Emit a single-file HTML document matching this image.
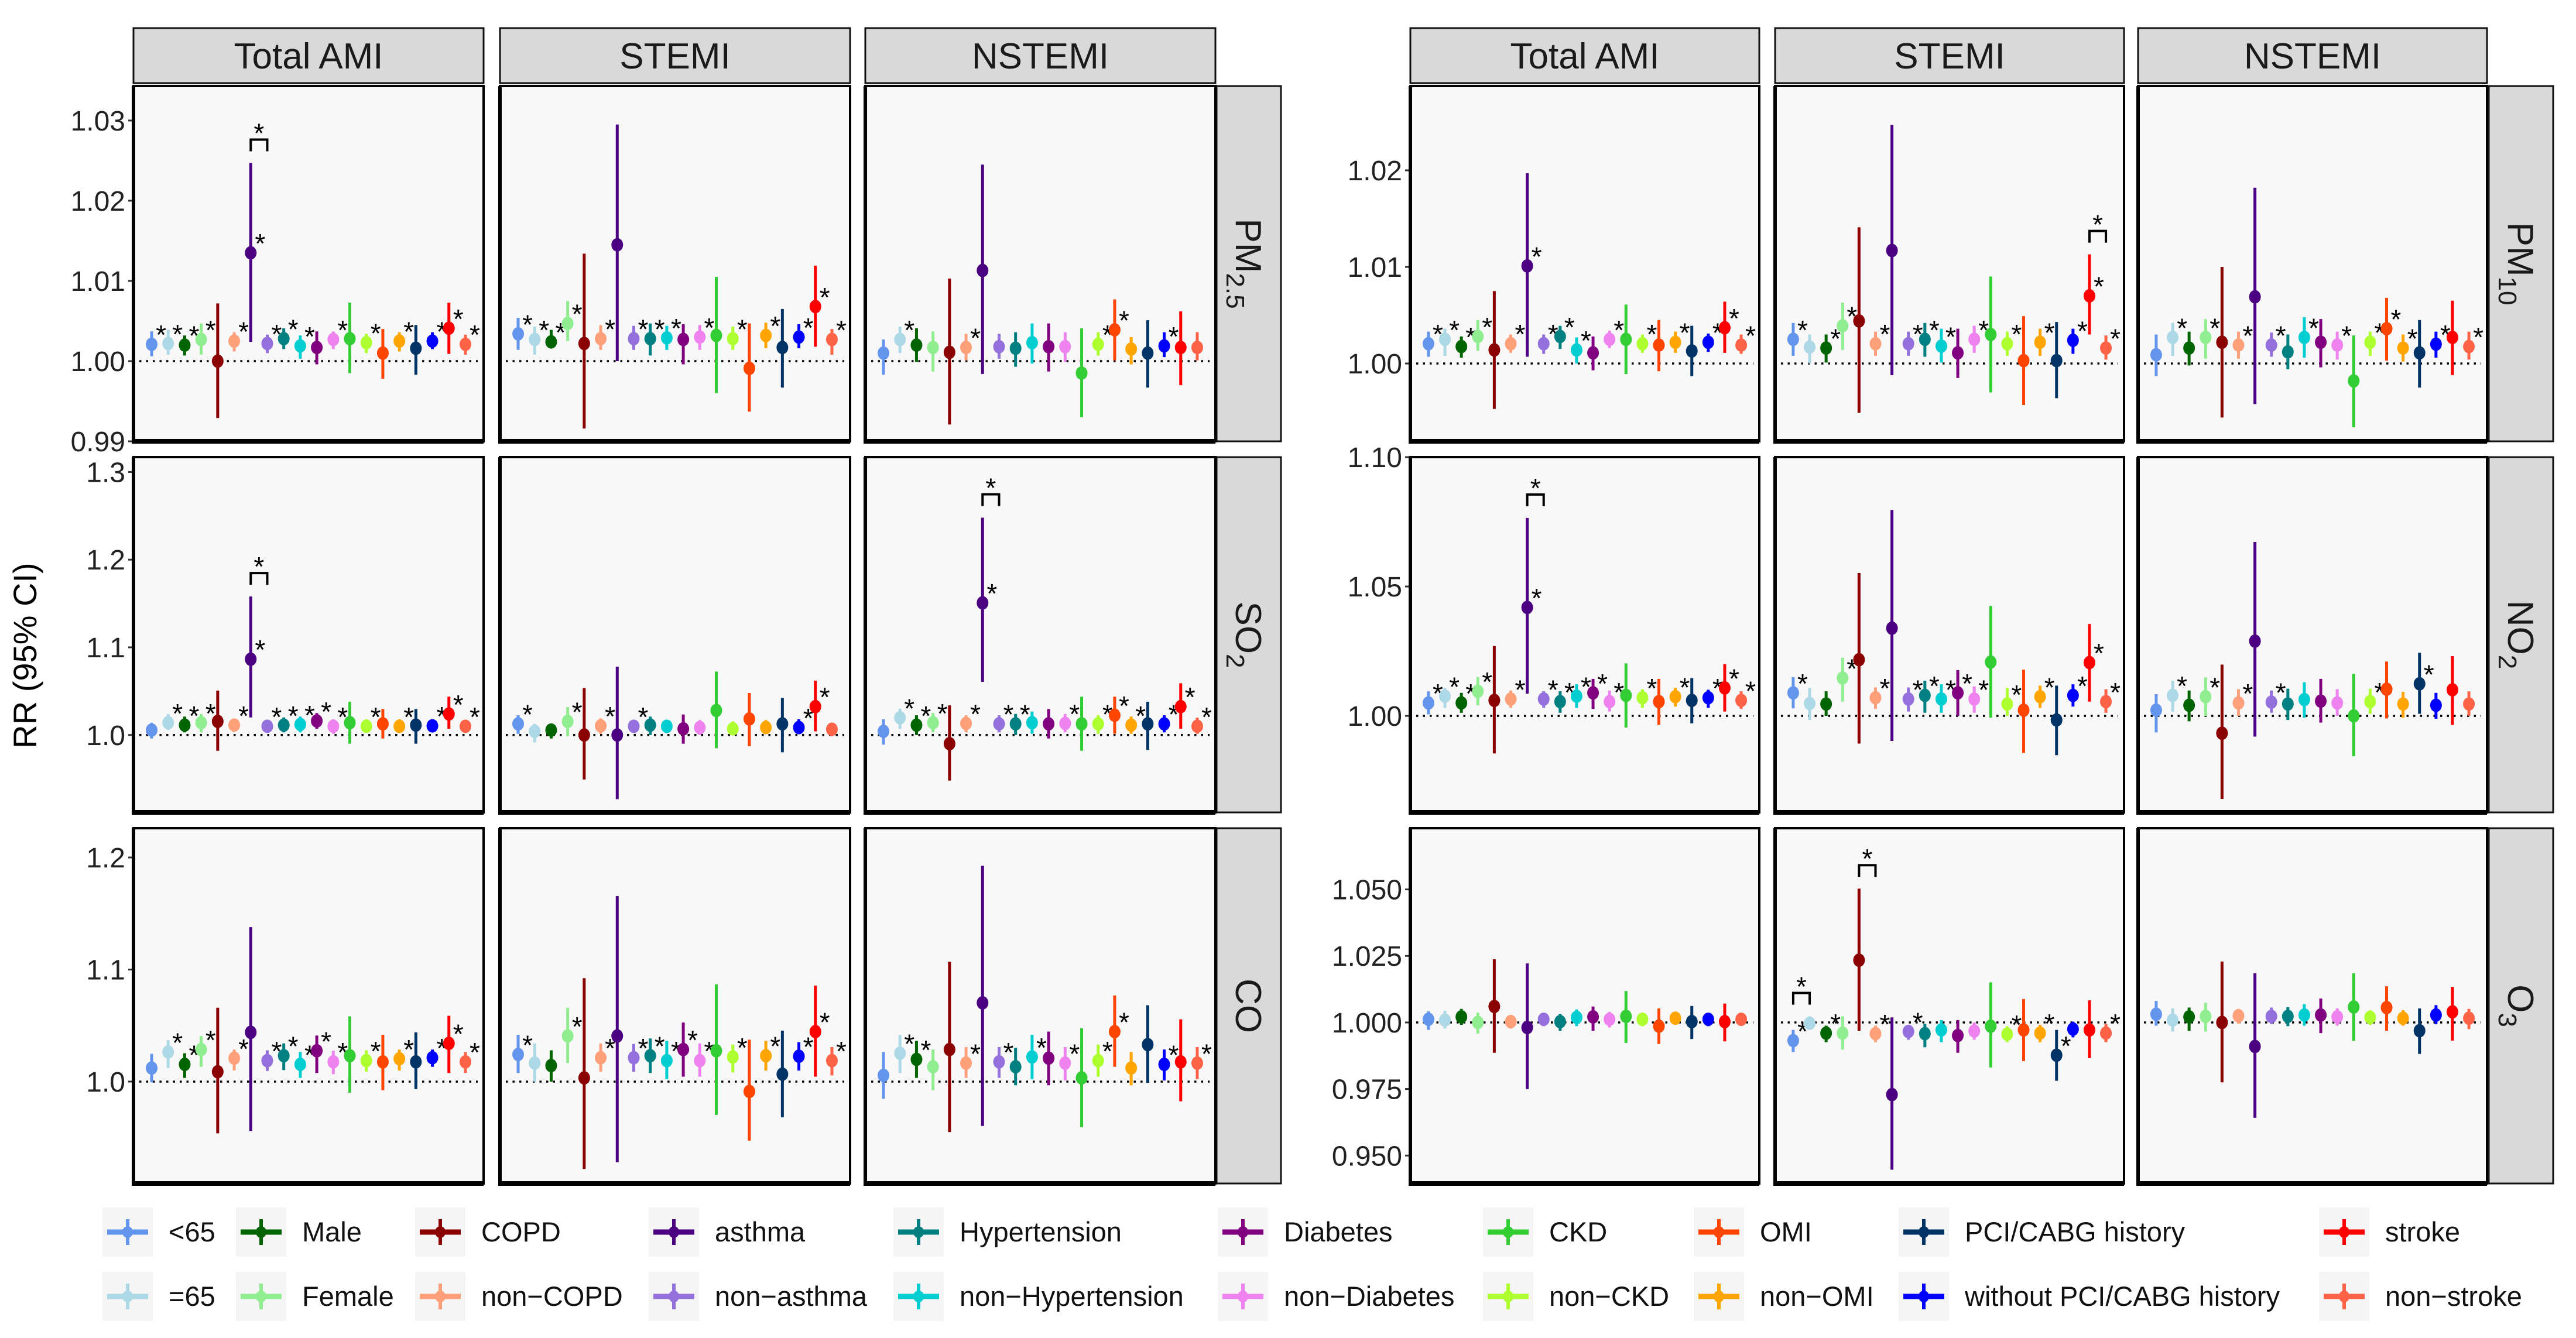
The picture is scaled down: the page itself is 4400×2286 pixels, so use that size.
<!DOCTYPE html>
<html><head><meta charset="utf-8"><title>RR forest panels</title>
<style>html,body{margin:0;padding:0;background:#fff}svg{display:block}text{font-family:"Liberation Sans",Arial,sans-serif}</style>
</head><body>
<svg id="chart" xmlns="http://www.w3.org/2000/svg" width="4400" height="2286" viewBox="0 0 4400 2286">
<rect x="0" y="0" width="4400" height="2286" fill="#ffffff"/>
<text x="0" y="0" transform="translate(62,1120) rotate(-90)" text-anchor="middle" font-size="56">RR (95% CI)</text>
</svg>
<script>
const SUBGROUPS=["<65","=65","Male","Female","COPD","non-COPD","asthma","non-asthma","Hypertension","non-Hypertension","Diabetes","non-Diabetes","CKD","non-CKD","OMI","non-OMI","PCI/CABG history","without PCI/CABG history","stroke","non-stroke"];
const COLORS=["#6495ED","#ADD8E6","#006400","#90EE90","#8B0000","#FFA07A","#4B0082","#9370DB","#008080","#00CED1","#800080","#EE82EE","#32CD32","#ADFF2F","#FF4500","#FFA500","#003366","#0000FF","#FF0000","#FF6347"];
const OUTCOMES=["Total AMI","STEMI","NSTEMI"];

const PM25_TOTAL_EST=[1.0021,1.0022,1.0020,1.0027,1.0000,1.0025,1.0135,1.0022,1.0028,1.0019,1.0017,1.0027,1.0028,1.0023,1.0010,1.0025,1.0016,1.0025,1.0041,1.0021];
const PM25_TOTAL_LO=[1.0006,1.0008,1.0007,1.0008,0.9929,1.0012,1.0024,1.0010,1.0015,1.0003,0.9996,1.0015,0.9985,1.0010,0.9978,1.0012,0.9983,1.0015,1.0009,1.0008];
const PM25_TOTAL_HI=[1.0037,1.0039,1.0032,1.0047,1.0072,1.0036,1.0247,1.0033,1.0041,1.0032,1.0037,1.0037,1.0073,1.0034,1.0040,1.0036,1.0045,1.0036,1.0073,1.0033];
const PM25_TOTAL_STAR=[1,1,1,1,0,1,1,1,1,1,0,1,0,1,0,1,0,1,1,1];
const PM25_STEMI_EST=[1.0034,1.0027,1.0024,1.0047,1.0022,1.0028,1.0145,1.0028,1.0028,1.0029,1.0027,1.0030,1.0032,1.0028,0.9991,1.0032,1.0017,1.0030,1.0068,1.0027];
const PM25_STEMI_LO=[1.0014,1.0008,1.0017,1.0025,0.9916,1.0014,1.0000,1.0014,1.0007,1.0014,0.9996,1.0014,0.9960,1.0014,0.9937,1.0016,0.9967,1.0016,1.0018,1.0008];
const PM25_STEMI_HI=[1.0054,1.0043,1.0039,1.0075,1.0134,1.0045,1.0295,1.0044,1.0047,1.0044,1.0046,1.0045,1.0105,1.0043,1.0047,1.0048,1.0065,1.0046,1.0119,1.0040];
const PM25_STEMI_STAR=[1,1,1,1,0,1,0,1,1,1,0,1,0,1,0,1,0,1,1,1];
const PM25_NSTEMI_EST=[1.0010,1.0027,1.0020,1.0017,1.0011,1.0017,1.0113,1.0018,1.0016,1.0023,1.0018,1.0018,0.9985,1.0021,1.0039,1.0015,1.0010,1.0019,1.0017,1.0017];
const PM25_NSTEMI_LO=[0.9983,1.0010,0.9999,0.9987,0.9921,1.0001,0.9984,1.0003,0.9993,0.9997,0.9987,0.9999,0.9930,1.0007,1.0001,0.9996,0.9967,1.0005,0.9970,1.0001];
const PM25_NSTEMI_HI=[1.0027,1.0043,1.0041,1.0037,1.0103,1.0034,1.0245,1.0034,1.0036,1.0047,1.0047,1.0036,1.0041,1.0036,1.0077,1.0030,1.0051,1.0036,1.0062,1.0036];
const PM25_NSTEMI_STAR=[0,1,0,0,0,1,0,0,0,0,0,0,0,1,1,0,0,1,0,0];

const SO2_TOTAL_EST=[1.0056,1.014,1.0113,1.014,1.0155,1.0113,1.0865,1.0099,1.0113,1.012,1.016,1.0099,1.014,1.0099,1.0127,1.0099,1.0113,1.0104,1.024,1.0099];
const SO2_TOTAL_LO=[0.996,1.0056,1.003,1.003,0.982,1.004,1.020,1.004,1.003,1.003,1.007,1.0014,0.9901,1.003,0.996,1.003,0.9901,1.004,1.007,1.003];
const SO2_TOTAL_HI=[1.014,1.024,1.021,1.024,1.0507,1.017,1.158,1.0155,1.020,1.021,1.025,1.018,1.038,1.018,1.0296,1.018,1.0296,1.016,1.0437,1.0155];
const SO2_TOTAL_STAR=[0,1,1,1,0,1,1,1,1,1,1,1,0,1,0,1,0,1,1,1];
const SO2_STEMI_EST=[1.0127,1.0042,1.0056,1.0155,1.0,1.0104,1.0,1.0099,1.0113,1.0099,1.007,1.0085,1.028,1.007,1.0183,1.0085,1.0127,1.0085,1.0324,1.0065];
const SO2_STEMI_LO=[1.0014,0.9915,0.996,0.9986,0.9493,1.0014,0.9268,1.003,1.0,1.003,0.9901,1.0,0.985,1.0,0.9873,1.0014,0.9803,1.0014,1.0042,0.9986];
const SO2_STEMI_HI=[1.0225,1.0127,1.0113,1.032,1.0535,1.019,1.078,1.017,1.021,1.017,1.0234,1.017,1.0724,1.0155,1.0479,1.017,1.0423,1.018,1.062,1.014];
const SO2_STEMI_STAR=[1,0,0,1,0,1,0,1,0,0,0,0,0,0,0,0,0,1,1,0];
const SO2_NSTEMI_EST=[1.0042,1.0197,1.0113,1.014,0.9901,1.0132,1.1507,1.0127,1.0127,1.014,1.0127,1.0132,1.0127,1.0127,1.0225,1.0113,1.0127,1.0127,1.0324,1.0099];
const SO2_NSTEMI_LO=[0.989,1.007,1.0,1.003,0.948,1.003,1.0606,1.003,1.0,1.0014,0.996,1.003,0.982,1.0014,1.0014,1.0014,0.983,1.003,1.007,1.0014];
const SO2_NSTEMI_HI=[1.018,1.030,1.0225,1.025,1.0338,1.0225,1.2479,1.0225,1.024,1.0268,1.0296,1.024,1.0437,1.0225,1.0437,1.021,1.038,1.0225,1.059,1.0197];
const SO2_NSTEMI_STAR=[0,1,1,1,0,1,1,1,1,0,0,1,0,1,1,1,0,1,1,1];

const CO_TOTAL_EST=[1.0121,1.0264,1.0154,1.0286,1.0088,1.0209,1.044,1.0187,1.0231,1.0154,1.0275,1.0176,1.0231,1.0187,1.0176,1.0204,1.0176,1.0213,1.0341,1.0176];
const CO_TOTAL_LO=[0.9993,1.0121,1.0033,1.0132,0.9538,1.0099,0.956,1.0095,1.0103,1.0033,1.0077,1.0066,0.9901,1.0088,0.9923,1.0099,0.9934,1.0132,1.0077,1.0077];
const CO_TOTAL_HI=[1.0248,1.037,1.0253,1.0407,1.0659,1.0286,1.1378,1.0279,1.0341,1.0264,1.0411,1.0275,1.0582,1.0279,1.0418,1.0286,1.044,1.0286,1.0587,1.0264];
const CO_TOTAL_STAR=[0,1,1,1,0,1,0,1,1,1,1,1,0,1,0,1,0,1,1,1];
const CO_STEMI_EST=[1.0242,1.0165,1.0143,1.0407,1.0033,1.0213,1.0407,1.0213,1.0231,1.0187,1.0286,1.0187,1.0275,1.022,0.9912,1.0231,1.0066,1.0226,1.0446,1.0187];
const CO_STEMI_LO=[1.0077,1.0,1.0,1.0165,0.922,1.0088,0.9281,1.0088,1.0077,1.0022,1.0044,1.0044,0.9703,1.0081,0.9473,1.0099,0.9681,1.0099,1.0044,1.0055];
const CO_STEMI_HI=[1.0418,1.0341,1.0279,1.0659,1.0923,1.0341,1.1655,1.0336,1.0385,1.0363,1.0527,1.0341,1.0868,1.033,1.0374,1.0363,1.0455,1.0352,1.0857,1.0308];
const CO_STEMI_STAR=[1,0,0,1,0,1,0,1,1,1,1,1,0,1,0,1,0,1,1,1];
const CO_NSTEMI_EST=[1.0055,1.0253,1.0198,1.0132,1.0286,1.0165,1.0703,1.0176,1.0132,1.022,1.0209,1.0165,1.0033,1.0187,1.0446,1.0121,1.033,1.0154,1.0176,1.0165];
const CO_NSTEMI_LO=[0.9846,1.0077,1.0033,0.9923,0.9549,1.0033,0.9604,1.0033,0.9967,1.0022,0.9967,1.0011,0.9593,1.0044,1.0132,0.9967,0.9989,1.0011,0.9824,1.0022];
const CO_NSTEMI_HI=[1.0264,1.0418,1.0363,1.0286,1.107,1.0308,1.1927,1.0308,1.0301,1.0418,1.0446,1.0308,1.0477,1.033,1.0769,1.0264,1.0681,1.0286,1.0556,1.0308];
const CO_NSTEMI_STAR=[0,1,1,0,0,1,0,1,0,1,0,1,0,1,1,0,0,1,0,1];

const PM10_TOTAL_EST=[1.00205,1.0025,1.00175,1.0028,1.0014,1.00205,1.0101,1.00205,1.0028,1.0014,1.0011,1.0025,1.0025,1.00205,1.0019,1.0022,1.0013,1.0022,1.0037,1.0019];
const PM10_TOTAL_LO=[1.0007,1.0008,1.0006,1.0013,0.9953,1.0011,1.0007,1.001,1.0015,1.0,0.9993,1.0016,0.9989,1.0011,0.9992,1.0011,0.9987,1.0012,1.0011,1.001];
const PM10_TOTAL_HI=[1.0033,1.0036,1.0028,1.0045,1.0075,1.003,1.0197,1.003,1.0039,1.0027,1.0028,1.0034,1.0061,1.003,1.0045,1.0033,1.0039,1.0031,1.0064,1.003];
const PM10_TOTAL_STAR=[1,1,1,1,0,1,1,1,1,1,0,1,0,1,0,1,0,1,1,1];
const PM10_STEMI_EST=[1.0025,1.0017,1.0016,1.0039,1.0044,1.00205,1.0117,1.00205,1.0025,1.0018,1.0011,1.0025,1.003,1.00205,1.0003,1.0022,1.0003,1.0024,1.007,1.0016];
const PM10_STEMI_LO=[1.0008,1.0,1.0001,1.0014,0.9949,1.0008,0.9988,1.0008,1.0007,1.0001,0.9985,1.0011,0.997,1.0008,0.9957,1.0008,0.9964,1.001,1.003,1.0004];
const PM10_STEMI_HI=[1.0042,1.003,1.003,1.0063,1.0141,1.0033,1.0247,1.0033,1.0042,1.0036,1.0036,1.0039,1.009,1.0033,1.0049,1.0036,1.0043,1.0036,1.0113,1.0029];
const PM10_STEMI_STAR=[1,0,1,1,0,1,0,1,1,1,0,1,0,1,0,1,0,1,1,1];
const PM10_NSTEMI_EST=[1.0009,1.0027,1.0016,1.0027,1.0022,1.0019,1.0069,1.0019,1.0012,1.0027,1.0022,1.0019,0.9982,1.0022,1.0036,1.0016,1.0011,1.002,1.0027,1.00175];
const PM10_NSTEMI_LO=[0.9987,1.0008,0.9998,1.0005,0.9944,1.0005,0.9958,1.0007,0.9994,1.0006,0.9996,1.0004,0.9934,1.0008,1.0003,1.0002,0.9975,1.0006,0.9988,1.0004];
const PM10_NSTEMI_HI=[1.003,1.0042,1.0033,1.0046,1.01,1.0033,1.0182,1.0032,1.003,1.0048,1.0046,1.0033,1.0029,1.0033,1.0068,1.003,1.0045,1.0033,1.0065,1.0033];
const PM10_NSTEMI_STAR=[0,1,0,1,0,1,0,1,0,1,0,1,0,1,1,1,0,1,0,1];

const NO2_TOTAL_EST=[1.005,1.0076,1.005,1.0095,1.006,1.0065,1.0419,1.0065,1.0055,1.0076,1.0089,1.0055,1.0079,1.007,1.0055,1.0074,1.006,1.007,1.0108,1.006];
const NO2_TOTAL_LO=[1.0006,1.0031,1.0012,1.0041,0.9855,1.0031,1.0086,1.0031,1.0012,1.0031,1.0027,1.0017,0.9955,1.0031,0.9965,1.0036,0.9971,1.0031,1.0017,1.0027];
const NO2_TOTAL_HI=[1.0095,1.0108,1.0089,1.015,1.027,1.0098,1.0765,1.0095,1.0095,1.0122,1.0143,1.0098,1.0203,1.0103,1.0143,1.0108,1.0146,1.0101,1.02,1.0095];
const NO2_TOTAL_STAR=[1,1,1,1,0,1,1,1,1,1,1,1,0,1,0,1,0,1,1,1];
const NO2_STEMI_EST=[1.0089,1.0048,1.0046,1.0146,1.0217,1.007,1.0339,1.0065,1.0079,1.0065,1.0089,1.0065,1.0208,1.0046,1.0022,1.0074,0.9984,1.0079,1.0206,1.0055];
const NO2_STEMI_LO=[1.0029,0.9984,1.0,1.0055,0.9893,1.0027,0.9903,1.0017,1.0012,1.0012,1.0,1.0012,0.9993,1.0,0.9857,1.0031,0.9848,1.0036,1.0055,1.0012];
const NO2_STEMI_HI=[1.015,1.0108,1.0095,1.0225,1.0552,1.011,1.0796,1.011,1.0136,1.0122,1.0177,1.0114,1.0425,1.0108,1.0179,1.0117,1.0117,1.0122,1.0355,1.0103];
const NO2_STEMI_STAR=[1,0,0,1,0,1,0,1,1,1,1,1,0,1,0,1,0,1,1,1];
const NO2_NSTEMI_EST=[1.0022,1.0079,1.0041,1.0074,0.9933,1.005,1.0289,1.0053,1.0046,1.0063,1.0057,1.005,1.0,1.0055,1.0103,1.0046,1.0124,1.0041,1.0101,1.0046];
const NO2_NSTEMI_LO=[0.9936,1.0017,0.9979,1.0,0.9679,1.0,0.992,1.0012,0.9984,0.9993,0.9974,1.0,0.9844,1.0008,0.999,0.9993,1.0008,0.9989,0.9965,1.0];
const NO2_NSTEMI_HI=[1.0084,1.0136,1.0098,1.0149,1.0198,1.0103,1.0672,1.0098,1.0105,1.013,1.0143,1.0103,1.0162,1.0105,1.021,1.0093,1.0244,1.0089,1.0231,1.0095];
const NO2_NSTEMI_STAR=[0,1,0,1,0,1,0,1,0,0,0,0,0,1,0,0,1,0,0,0];

const O3_TOTAL_EST=[1.0012,1.0009,1.0021,1.0,1.006,1.0003,0.9981,1.0012,1.0003,1.0019,1.0021,1.0012,1.0023,1.0012,0.9986,1.0016,1.0003,1.0012,1.0003,1.0012];
const O3_TOTAL_LO=[0.9972,0.9977,0.9991,0.9958,0.9886,0.9977,0.975,0.9986,0.9969,0.9986,0.9969,0.9981,0.9923,0.9986,0.9919,0.9991,0.9938,0.9986,0.9929,0.9988];
const O3_TOTAL_HI=[1.0042,1.0044,1.0051,1.0037,1.0238,1.0028,1.0222,1.0034,1.0032,1.0049,1.006,1.004,1.0118,1.0034,1.0053,1.0037,1.0062,1.0034,1.0071,1.0034];
const O3_TOTAL_STAR=[0,0,0,0,0,0,0,0,0,0,0,0,0,0,0,0,0,0,0,0];
const O3_STEMI_EST=[0.9932,0.9997,0.996,0.996,1.0234,0.9958,0.9729,0.9966,0.9958,0.9972,0.9951,0.9968,0.9986,0.9956,0.9972,0.996,0.9877,0.9975,0.9972,0.996];
const O3_STEMI_LO=[0.9889,0.9977,0.9926,0.9898,0.9969,0.9926,0.9447,0.9935,0.9907,0.9926,0.9886,0.9935,0.9831,0.9926,0.9855,0.9926,0.9781,0.9944,0.9866,0.9926];
const O3_STEMI_HI=[0.9972,1.0023,0.9988,1.0023,1.0503,0.9988,1.0019,0.9991,0.9995,1.0009,1.0009,1.0,1.0151,0.9986,1.0088,0.9991,0.9972,1.0003,1.0083,0.9994];
const O3_STEMI_STAR=[1,0,1,0,0,1,0,1,0,0,0,0,0,1,0,1,1,0,0,1];
const O3_NSTEMI_EST=[1.0031,1.0009,1.0021,1.0023,1.0,1.0025,0.991,1.0023,1.0023,1.0028,1.0028,1.0021,1.0058,1.0019,1.0056,1.0016,0.9969,1.0028,1.004,1.0016];
const O3_NSTEMI_LO=[0.9988,0.9966,0.9969,0.9966,0.9775,0.9995,0.9642,0.9994,0.9986,0.9988,0.996,0.9988,0.9931,0.9991,0.9969,0.9988,0.9882,0.9994,0.9932,0.9975];
const O3_NSTEMI_HI=[1.0081,1.0053,1.0056,1.0074,1.0229,1.0051,1.0185,1.0056,1.0058,1.0069,1.009,1.0053,1.0185,1.0046,1.0136,1.0046,1.0053,1.0065,1.0134,1.0051];
const O3_NSTEMI_STAR=[0,0,0,0,0,0,0,0,0,0,0,0,0,0,0,0,0,0,0,0];

// subgroup-difference brackets (index i pairs with i+1)
const PM25_TOTAL_BRACKET=[6], SO2_TOTAL_BRACKET=[6], SO2_NSTEMI_BRACKET=[6];
const PM10_STEMI_BRACKET=[18], NO2_TOTAL_BRACKET=[6], O3_STEMI_BRACKET=[0,4];

const PM25_TICKS=[0.99,1.00,1.01,1.02,1.03], PM25_TICK_LABELS=["0.99","1.00","1.01","1.02","1.03"];
const SO2_TICKS=[1.0,1.1,1.2,1.3], SO2_TICK_LABELS=["1.0","1.1","1.2","1.3"];
const CO_TICKS=[1.0,1.1,1.2], CO_TICK_LABELS=["1.0","1.1","1.2"];
const PM10_TICKS=[1.00,1.01,1.02], PM10_TICK_LABELS=["1.00","1.01","1.02"];
const NO2_TICKS=[1.00,1.05,1.10], NO2_TICK_LABELS=["1.00","1.05","1.10"];
const O3_TICKS=[0.950,0.975,1.000,1.025,1.050], O3_TICK_LABELS=["0.950","0.975","1.000","1.025","1.050"];

const svg=document.getElementById('chart');
const NS="http://www.w3.org/2000/svg";
function mk(tag,attrs,parent){const e=document.createElementNS(NS,tag);for(const k in attrs)e.setAttribute(k,attrs[k]);(parent||svg).appendChild(e);return e;}

const GROUPS=[{xs:[228,854,1478],w:598,strip:2078},{xs:[2409,3032,3652],w:596,strip:4251}];
const ROW_Y=[147,781,1415], ROW_H=607, STRIP_W=110;
const ROWS=[
 {g:0,r:0,name:"pm25",label:["PM","2.5"],dom:[0.99,1.0343],ticks:PM25_TICKS,tl:PM25_TICK_LABELS,
  panels:[[PM25_TOTAL_EST,PM25_TOTAL_LO,PM25_TOTAL_HI,PM25_TOTAL_STAR,PM25_TOTAL_BRACKET],[PM25_STEMI_EST,PM25_STEMI_LO,PM25_STEMI_HI,PM25_STEMI_STAR,[]],[PM25_NSTEMI_EST,PM25_NSTEMI_LO,PM25_NSTEMI_HI,PM25_NSTEMI_STAR,[]]]},
 {g:0,r:1,name:"so2",label:["SO","2"],dom:[0.9117,1.317],ticks:SO2_TICKS,tl:SO2_TICK_LABELS,
  panels:[[SO2_TOTAL_EST,SO2_TOTAL_LO,SO2_TOTAL_HI,SO2_TOTAL_STAR,SO2_TOTAL_BRACKET],[SO2_STEMI_EST,SO2_STEMI_LO,SO2_STEMI_HI,SO2_STEMI_STAR,[]],[SO2_NSTEMI_EST,SO2_NSTEMI_LO,SO2_NSTEMI_HI,SO2_NSTEMI_STAR,SO2_NSTEMI_BRACKET]]},
 {g:0,r:2,name:"co",label:["CO",""],dom:[0.9091,1.2261],ticks:CO_TICKS,tl:CO_TICK_LABELS,
  panels:[[CO_TOTAL_EST,CO_TOTAL_LO,CO_TOTAL_HI,CO_TOTAL_STAR,[]],[CO_STEMI_EST,CO_STEMI_LO,CO_STEMI_HI,CO_STEMI_STAR,[]],[CO_NSTEMI_EST,CO_NSTEMI_LO,CO_NSTEMI_HI,CO_NSTEMI_STAR,[]]]},
 {g:1,r:0,name:"pm10",label:["PM","10"],dom:[0.99194,1.02873],ticks:PM10_TICKS,tl:PM10_TICK_LABELS,
  panels:[[PM10_TOTAL_EST,PM10_TOTAL_LO,PM10_TOTAL_HI,PM10_TOTAL_STAR,[]],[PM10_STEMI_EST,PM10_STEMI_LO,PM10_STEMI_HI,PM10_STEMI_STAR,PM10_STEMI_BRACKET],[PM10_NSTEMI_EST,PM10_NSTEMI_LO,PM10_NSTEMI_HI,PM10_NSTEMI_STAR,[]]]},
 {g:1,r:1,name:"no2",label:["NO","2"],dom:[0.9627,1.10],ticks:NO2_TICKS,tl:NO2_TICK_LABELS,
  panels:[[NO2_TOTAL_EST,NO2_TOTAL_LO,NO2_TOTAL_HI,NO2_TOTAL_STAR,NO2_TOTAL_BRACKET],[NO2_STEMI_EST,NO2_STEMI_LO,NO2_STEMI_HI,NO2_STEMI_STAR,[]],[NO2_NSTEMI_EST,NO2_NSTEMI_LO,NO2_NSTEMI_HI,NO2_NSTEMI_STAR,[]]]},
 {g:1,r:2,name:"o3",label:["O","3"],dom:[0.9395,1.073],ticks:O3_TICKS,tl:O3_TICK_LABELS,
  panels:[[O3_TOTAL_EST,O3_TOTAL_LO,O3_TOTAL_HI,O3_TOTAL_STAR,[]],[O3_STEMI_EST,O3_STEMI_LO,O3_STEMI_HI,O3_STEMI_STAR,O3_STEMI_BRACKET],[O3_NSTEMI_EST,O3_NSTEMI_LO,O3_NSTEMI_HI,O3_NSTEMI_STAR,[]]]}
];

// column headers
GROUPS.forEach((G,gi)=>{
  G.xs.forEach((x0,ci)=>{
    const r=mk('rect',{x:x0,y:48,width:G.w,height:94,fill:'#d9d9d9',stroke:'#111','stroke-width':3});
    
    
    const t=mk('text',{x:x0+G.w/2,y:117,'text-anchor':'middle','font-size':62,fill:'#1a1a1a'});
    t.textContent=OUTCOMES[ci];
    
    
  });
});

ROWS.forEach(R=>{
  const G=GROUPS[R.g], top=ROW_Y[R.r], bot=top+ROW_H;
  const yS=v=>bot-(v-R.dom[0])/(R.dom[1]-R.dom[0])*ROW_H;
  // row strip
  const sr=mk('rect',{x:G.strip,y:top,width:STRIP_W,height:ROW_H,fill:'#d9d9d9',stroke:'#111','stroke-width':3});
  
  
  const st=mk('text',{x:0,y:0,transform:`translate(${G.strip+STRIP_W/2-22},${top+ROW_H/2}) rotate(90)`,'text-anchor':'middle','font-size':62,fill:'#1a1a1a'});
  
  
  const t1=mk('tspan',{},st); t1.textContent=R.label[0];
  if(R.label[1]){const t2=mk('tspan',{'font-size':44,dy:16},st);t2.textContent=R.label[1];}
  // ticks on first panel
  const x0=G.xs[0];
  R.ticks.forEach((tv,i)=>{
    const y=yS(tv);
    mk('line',{x1:x0-9,x2:x0,y1:y,y2:y,stroke:'#333','stroke-width':3});
    const tt=mk('text',{x:x0-14,y:y+17,'text-anchor':'end','font-size':48,fill:'#222'});
    tt.textContent=R.tl[i];
    
    
  });
  R.panels.forEach((P,ci)=>{
    const px=G.xs[ci], W=G.w;
    const [est,lo,hi,star,br]=P;
    const xS=i=>px+(i+1.1)*W/21.2;
    const bg=mk('rect',{x:px,y:top,width:W,height:ROW_H,fill:'#f8f8f8',stroke:'#000','stroke-width':4});
    
    
    mk('line',{x1:px,x2:px,y1:top,y2:bot+4,stroke:'#000','stroke-width':6});
    mk('line',{x1:px,x2:px+W,y1:bot,y2:bot,stroke:'#000','stroke-width':8});
    const ref=mk('line',{x1:px+10,x2:px+W-10,y1:yS(1),y2:yS(1),stroke:'#000','stroke-width':3.5,'stroke-dasharray':'3.5,8'});
    
    
    est.forEach((v,i)=>{
      const x=xS(i);
      const ln=mk('line',{x1:x,x2:x,y1:yS(lo[i]),y2:yS(hi[i]),stroke:COLORS[i],'stroke-width':5});
      
      
      const c=mk('ellipse',{cx:x,cy:yS(v),rx:10,ry:11.5,fill:COLORS[i]});
      
      
      if(star[i]){
        const s=mk('text',{x:x+16,y:yS(v)-25+25,'text-anchor':'middle','font-size':46,fill:'#000'});
        s.textContent='*';
        
        
      }
    });
    br.forEach(i=>{
      const xa=xS(i), xb=xS(i+1);
      const yt=Math.min(yS(hi[i]),yS(hi[i+1]))-20;
      const b=mk('path',{d:`M${xa},${yt} L${xa},${yt-20} L${xb},${yt-20} L${xb},${yt}`,fill:'none',stroke:'#000','stroke-width':4});
      
      
      const s=mk('text',{x:(xa+xb)/2,y:yt-40+25,'text-anchor':'middle','font-size':46,fill:'#000'});
      s.textContent='*';
      
      
    });
  });
});

// legend
const LEG_X=[175,403,709,1108,1526,2080,2533,2893,3243,3961];
const LEG_Y=[2063,2173];
SUBGROUPS.forEach((s,i)=>{
  const col=Math.floor(i/2), row=i%2;
  const bx=LEG_X[col], by=LEG_Y[row];
  const g=mk('g',{});
  
  
  mk('rect',{x:bx,y:by,width:86,height:84,fill:'#f5f5f5'},g);
  mk('line',{x1:bx+8,x2:bx+78,y1:by+42,y2:by+42,stroke:COLORS[i],'stroke-width':9},g);
  mk('line',{x1:bx+43,x2:bx+43,y1:by+20,y2:by+64,stroke:COLORS[i],'stroke-width':6},g);
  mk('ellipse',{cx:bx+43,cy:by+42,rx:9,ry:10,fill:COLORS[i]},g);
  const t=mk('text',{x:bx+113,y:by+58,'font-size':47,fill:'#111'},g);
  t.textContent=s.replace(/-/g,'\u2212');
});
</script>
</body></html>
